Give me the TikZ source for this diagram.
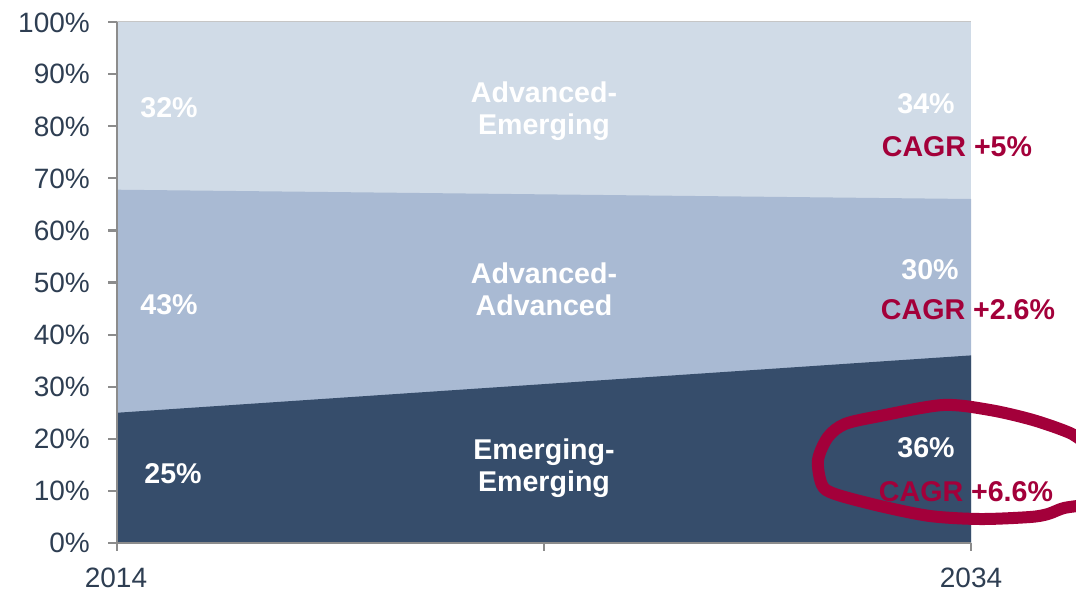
\documentclass[tikz,border=0pt]{standalone}
\usepackage{fontspec}
\setmainfont{Liberation Sans}
\definecolor{darkA}{HTML}{364D6B}
\definecolor{midA}{HTML}{A9BAD3}
\definecolor{lightA}{HTML}{D0DBE7}
\definecolor{redA}{HTML}{A3003A}
\definecolor{axisTxt}{HTML}{2E3E52}
\definecolor{axisLn}{HTML}{8C8C8C}
\tikzset{
  axlbl/.style={inner sep=0pt, text=axisTxt, font=\fontsize{28}{32}\selectfont},
  wlbl/.style={inner sep=0pt, anchor=base, text=white, font=\fontsize{28.6}{32}\selectfont\bfseries},
  rlbl/.style={inner sep=0pt, anchor=base, text=redA, font=\fontsize{28.6}{32}\selectfont\bfseries},
  axline/.style={draw=axisLn, line width=2.2pt},
}
\begin{document}
\begin{tikzpicture}[x=1pt,y=-1pt]
\useasboundingbox (0,0) rectangle (1076,592);
% areas
\fill[lightA] (117,22) rectangle (971,543);
\fill[midA] (117,189.7) -- (971,199) -- (971,543) -- (117,543) -- cycle;
\fill[darkA] (117,412.75) -- (971,355.4) -- (971,543) -- (117,543) -- cycle;
\draw[axisLn!50, line width=1pt] (117,21.5) -- (971,21.5);
% axes
\draw[axline] (117,22) -- (117,543);
\draw[axline] (117,543) -- (971,543);
\foreach \k in {0,...,10}{
  \draw[axline] (108,{543-52.1*\k}) -- (117,{543-52.1*\k});
}
\foreach \xx in {117,544,971}{
  \draw[axline] (\xx,543) -- (\xx,551);
}
% y labels
\node[axlbl, anchor=base east] (y100) at (90,32) {100\%};
\node[axlbl, anchor=base east] (y90) at (90,83.9) {90\%};
\node[axlbl, anchor=base east] (y80) at (90,136) {80\%};
\node[axlbl, anchor=base east] (y70) at (90,188.1) {70\%};
\node[axlbl, anchor=base east] (y60) at (90,240.2) {60\%};
\node[axlbl, anchor=base east] (y50) at (90,292.3) {50\%};
\node[axlbl, anchor=base east] (y40) at (90,344.4) {40\%};
\node[axlbl, anchor=base east] (y30) at (90,396.5) {30\%};
\node[axlbl, anchor=base east] (y20) at (90,448.6) {20\%};
\node[axlbl, anchor=base east] (y10) at (90,500.7) {10\%};
\node[axlbl, anchor=base east] (y0) at (90,552.8) {0\%};
% x labels
\node[axlbl, anchor=base] (x2014) at (116,587) {2014};
\node[axlbl, anchor=base] (x2034) at (971,587) {2034};
% left percentages
\node[wlbl] (p32) at (169,117) {32\%};
\node[wlbl] (p43) at (169,314) {43\%};
\node[wlbl] (p25) at (173,483) {25\%};
% middle labels
\node[wlbl] (ae1) at (544,102) {Advanced-};
\node[wlbl] (ae2) at (544,134) {Emerging};
\node[wlbl] (aa1) at (544,283) {Advanced-};
\node[wlbl] (aa2) at (544,315) {Advanced};
\node[wlbl] (ee1) at (544,459) {Emerging-};
\node[wlbl] (ee2) at (544,491) {Emerging};
% right labels
\node[wlbl] (p34) at (926,113) {34\%};
\node[rlbl] (c5) at (957,156) {CAGR +5\%};
\node[wlbl] (p30) at (930,279) {30\%};
\node[rlbl] (c26) at (968,319) {CAGR +2.6\%};
\node[wlbl] (p36) at (926,457) {36\%};
\node[rlbl] (c66) at (966,501) {CAGR +6.6\%};
% hand-drawn loop
\draw[redA, line width=12pt, line cap=round, line join=round]
  plot[smooth, tension=0.5] coordinates {
  (1086,444) (1070,433) (1033,420) (990,410) (943,405) (880,416) (845,424)
  (828,437) (818,460) (822,485) (835,494) (880,506) (930,516)
  (980,519) (1030,517) (1048,514) (1064,508) (1086,505)};
\end{tikzpicture}
\end{document}
